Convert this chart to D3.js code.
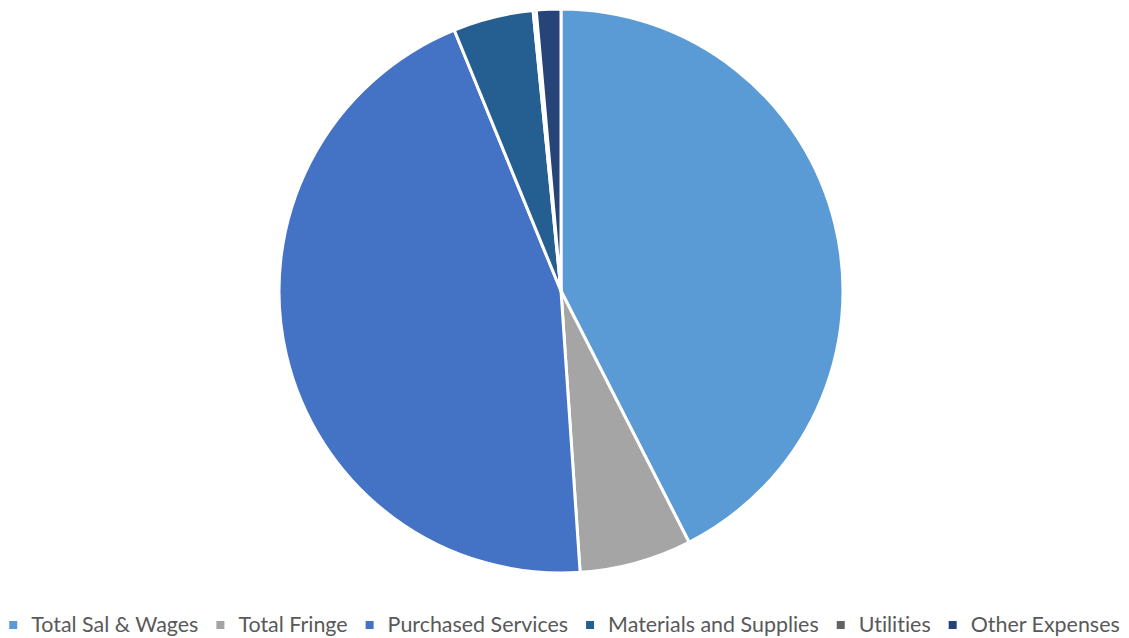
<!DOCTYPE html>
<html>
<head>
<meta charset="utf-8">
<script src="https://cdn.jsdelivr.net/npm/d3@7"></script>
<style>
  html, body { margin: 0; padding: 0; background: #ffffff; }
  svg { display: block; }
  .legend text { font-variant-ligatures: none; font-feature-settings: "liga" 0; }
</style>
</head>
<body>
<svg id="chart" width="1129" height="638"></svg>
<script>
// Expense categories and their share of the total (percent)
const categories = ["Total Sal & Wages", "Total Fringe", "Purchased Services", "Materials and Supplies", "Utilities", "Other Expenses"];
const values = [42.5, 6.42, 44.9, 4.6, 0.18, 1.4];
const colors = ["#5B9BD5", "#A5A5A5", "#4472C4", "#255E91", "#636363", "#264478"];

const width = 1129, height = 638;
const svg = d3.select("#chart");

const cx = 561, cy = 291, radius = 282;

const pie = d3.pie().sort(null).value(d => d.value);
const arc = d3.arc().innerRadius(0).outerRadius(radius);

const data = categories.map((c, i) => ({ name: c, value: values[i], color: colors[i] }));

svg.append("g")
  .attr("transform", `translate(${cx},${cy})`)
  .selectAll("path")
  .data(pie(data))
  .join("path")
  .attr("d", arc)
  .attr("fill", d => d.data.color)
  .attr("stroke", "#ffffff")
  .attr("stroke-width", 3)
  .attr("stroke-linejoin", "round");

// Legend: single row along the bottom, laid out from measured text widths
const legend = svg.append("g").attr("class", "legend");
const maxLegendWidth = 1111;
let fontSize = 22;
const markerSize = 8, markerGap = 14, itemGap = 18;
const baseline = 632;

const items = legend.selectAll("g.item")
  .data(data)
  .join("g")
  .attr("class", "item");

items.append("rect")
  .attr("width", markerSize)
  .attr("height", markerSize)
  .attr("fill", d => d.color);

items.append("text")
  .attr("font-family", "Lato, 'Open Sans', sans-serif")
  .attr("font-size", fontSize)
  .attr("fill", "#595959")
  .text(d => d.name);

function measure() {
  const w = [];
  items.each(function () {
    w.push(d3.select(this).select("text").node().getComputedTextLength());
  });
  return w;
}
let widths = measure();
let total = widths.reduce((a, w) => a + markerSize + markerGap + w, 0) + itemGap * (widths.length - 1);
if (total > maxLegendWidth) {
  const textSum = d3.sum(widths);
  fontSize = fontSize * (textSum - (total - maxLegendWidth)) / textSum;
  items.select("text").attr("font-size", fontSize);
  widths = measure();
  total = widths.reduce((a, w) => a + markerSize + markerGap + w, 0) + itemGap * (widths.length - 1);
}
let x = (width - total) / 2;
items.each(function (d, i) {
  const g = d3.select(this);
  g.select("rect").attr("x", x).attr("y", baseline - 11);
  g.select("text").attr("x", x + markerSize + markerGap).attr("y", baseline);
  x += markerSize + markerGap + widths[i] + itemGap;
});
</script>
</body>
</html>
